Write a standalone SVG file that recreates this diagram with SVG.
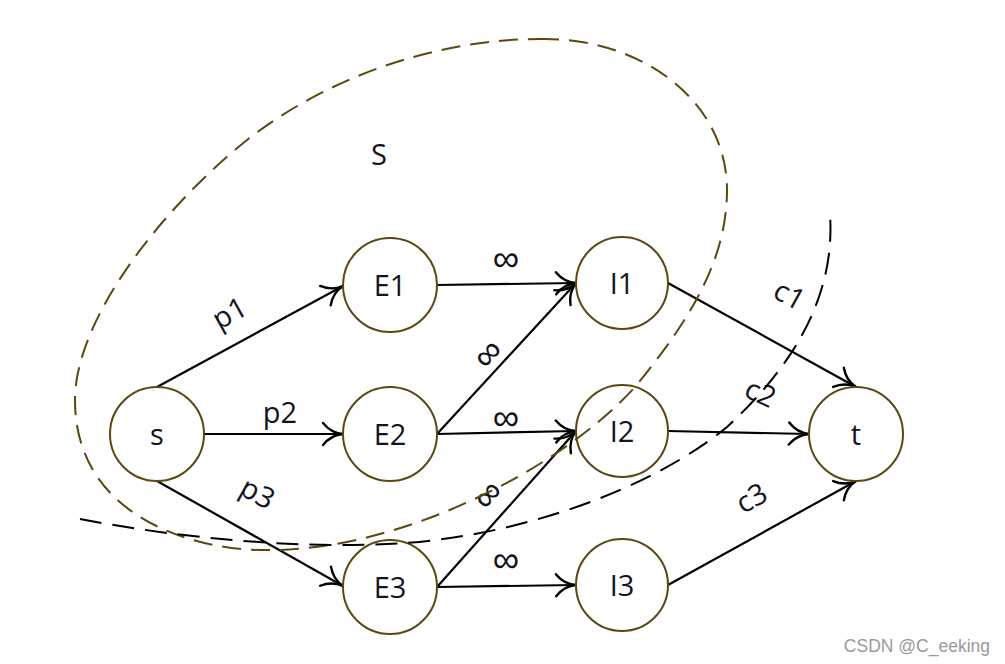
<svg xmlns="http://www.w3.org/2000/svg" width="1005" height="664" viewBox="0 0 1005 664">
<style>
.node{fill:#fff;stroke:#5a4712;stroke-width:2}
.lbl{font-family:"Open Sans","Noto Sans",sans-serif;font-size:29px;fill:#141420;text-anchor:middle}
.inf{font-family:"Liberation Sans","DejaVu Sans",sans-serif;font-size:37px;fill:#141420;text-anchor:middle}
.edge{stroke:#000;stroke-width:2.2;fill:none;marker-end:url(#arr)}
.cut{fill:none;stroke-width:2}
</style>
<defs>
<marker id="arr" markerUnits="userSpaceOnUse" markerWidth="30" markerHeight="30" viewBox="-25 -15 30 30" refX="0" refY="0" orient="auto" overflow="visible">
<path d="M-20,-11 Q-12,-1 0,0 Q-12,1 -20,11" fill="none" stroke="#000" stroke-width="2.4" stroke-linecap="round"/>
</marker>
</defs>
<rect width="1005" height="664" fill="#fff"/>

<g id="connectors">
<line class="edge" x1="157" y1="387" x2="343" y2="286"/>
<line class="edge" x1="203" y1="434" x2="343" y2="434"/>
<line class="edge" x1="157" y1="481" x2="343" y2="586"/>
<line class="edge" x1="437" y1="285" x2="576" y2="283"/>
<line class="edge" x1="437" y1="434" x2="576" y2="283"/>
<line class="edge" x1="437" y1="434" x2="576" y2="431"/>
<line class="edge" x1="437" y1="587" x2="576" y2="431"/>
<line class="edge" x1="437" y1="587" x2="576" y2="585"/>
<line class="edge" x1="668" y1="283" x2="856" y2="387"/>
<line class="edge" x1="668" y1="431" x2="809" y2="434"/>
<line class="edge" x1="668" y1="585" x2="856" y2="481"/>
<text class="lbl" transform="translate(230,314) rotate(-29)" y="9">p1</text>
<text class="lbl" x="280" y="423">p2</text>
<text class="lbl" transform="translate(257,494) rotate(29)" y="9">p3</text>
<text class="inf" x="506" y="271">∞</text>
<text class="inf" transform="translate(487,353) rotate(-47)" y="13">∞</text>
<text class="inf" x="506" y="430">∞</text>
<text class="inf" transform="translate(487,494) rotate(-48)" y="13">∞</text>
<text class="inf" x="506" y="572">∞</text>
<text class="lbl" transform="translate(789,296) rotate(29)" y="9">c1</text>
<text class="lbl" transform="translate(760,394) rotate(25)" y="9">c2</text>
<text class="lbl" transform="translate(752,499) rotate(-29)" y="9">c3</text>
</g>

<g id="node-s"><circle class="node" cx="157" cy="434" r="47"/><text class="lbl" x="157" y="445">s</text></g>
<g id="node-E1"><circle class="node" cx="390" cy="285" r="47"/><text class="lbl" x="390" y="296">E1</text></g>
<g id="node-E2"><circle class="node" cx="390" cy="434" r="47"/><text class="lbl" x="390" y="445">E2</text></g>
<g id="node-E3"><circle class="node" cx="390" cy="587" r="47"/><text class="lbl" x="390" y="598">E3</text></g>
<g id="node-I1"><circle class="node" cx="622" cy="283" r="46"/><text class="lbl" x="622" y="294">I1</text></g>
<g id="node-I2"><circle class="node" cx="622" cy="431" r="46"/><text class="lbl" x="622" y="442">I2</text></g>
<g id="node-I3"><circle class="node" cx="622" cy="585" r="46"/><text class="lbl" x="622" y="596">I3</text></g>
<g id="node-t"><circle class="node" cx="856" cy="434" r="47"/><text class="lbl" x="856" y="445">t</text></g>

<g id="set-S">
<path class="cut" stroke="#5a4712" stroke-dasharray="19 10" d="M540,39 C640,37 727,100 727,190 C727,260 690,320 635,387 C560,470 400,550 271,550 C200,552 75,520 75,400 C75,320 160,210 247,140 C330,75 440,39 540,39 Z"/>
<text class="lbl" x="379" y="165">S</text>
</g>

<g id="cut-line">
<path class="cut" stroke="#000" stroke-dasharray="22 11" d="M80,519 C180,538 300,550 405,543 C520,535 650,490 727,427 C800,360 835,290 830,215"/>
</g>

<text x="990" y="652" font-family="Liberation Sans,Arial,sans-serif" font-size="17.5" fill="#9a9a9a" text-anchor="end">CSDN @C_eeking</text>
</svg>
